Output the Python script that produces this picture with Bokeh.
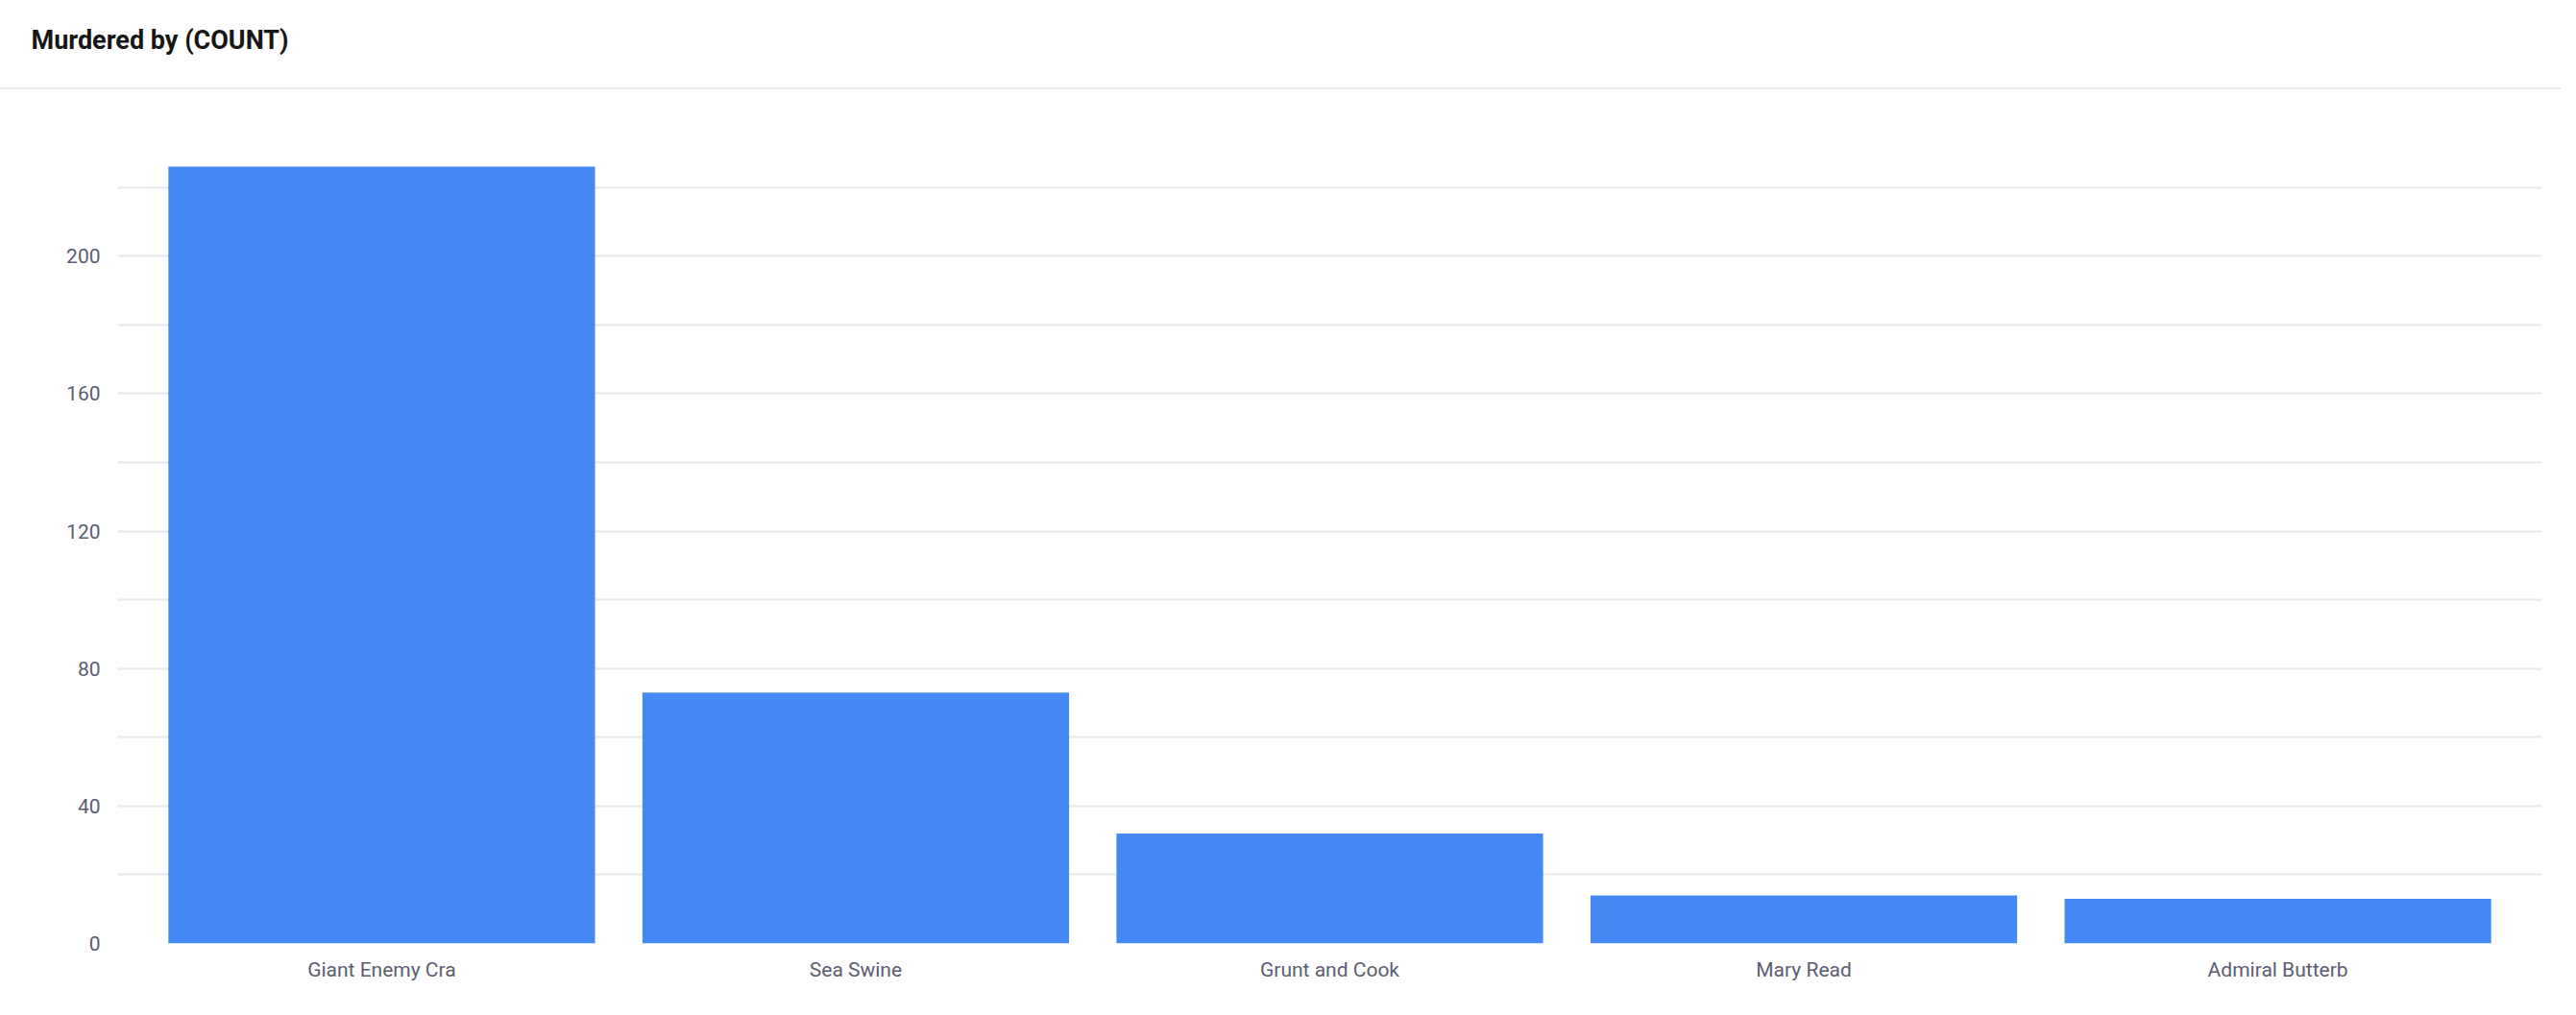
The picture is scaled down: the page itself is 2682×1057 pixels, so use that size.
from bokeh.plotting import figure
from bokeh.layouts import column
from bokeh.models import FactorRange, Range1d, FixedTicker, ColumnDataSource
from bokeh.embed import file_html
from bokeh.resources import INLINE

# ---- data ----
categories = ["Giant Enemy Cra", "Sea Swine", "Grunt and Cook", "Mary Read", "Admiral Butterb"]
counts = [226, 73, 32, 14, 13]
y_label_ticks = [0, 40, 80, 120, 160, 200]
y_grid_ticks = [0, 20, 40, 60, 80, 100, 120, 140, 160, 180, 200, 220]
title_text = "Murdered by (COUNT)"

# ---- styling ----
W, H = 2666, 1041
HEAD_H = 93
SEP = 2
BAR = "#4689f5"
GRID = "#e8e8ee"
LABEL = "#5b5d70"
FONT = "Roboto"
FRAME_LEFT = 122

# ---- header: title + full-width separator (CSS border) ----
head = figure(width=W, height=HEAD_H, x_range=Range1d(0, 1), y_range=Range1d(0, 1),
              output_backend="svg", toolbar_location=None,
              x_axis_location=None, y_axis_location=None,
              min_border_left=FRAME_LEFT, min_border_right=20,
              min_border_top=58, min_border_bottom=0,
              styles={"border-bottom": f"{SEP}px solid #ebebeb"})
head.grid.visible = False
head.outline_line_color = None
head.background_fill_color = "white"
head.border_fill_color = "white"
head.title.text = title_text
head.title.align = "left"
head.title.offset = 32 - FRAME_LEFT
head.title.vertical_align = "middle"
head.title.standoff = 0
head.title.text_font = FONT
head.title.text_font_size = "27px"
head.title.text_font_style = "bold"
head.title.text_color = "#161616"

# ---- chart ----
src = ColumnDataSource(dict(cat=categories, count=counts))

p = figure(
    x_range=FactorRange(factors=categories, range_padding=0.057, range_padding_units="absolute"),
    y_range=Range1d(0, 240),
    width=W, height=H - HEAD_H,
    output_backend="svg", toolbar_location=None,
    min_border_left=FRAME_LEFT, min_border_right=20,
    min_border_top=30, min_border_bottom=59,
)
p.background_fill_color = "white"
p.border_fill_color = "white"
p.outline_line_color = None

p.vbar(x="cat", top="count", width=0.9, source=src, fill_color=BAR, line_color=None)

p.xgrid.visible = False
p.ygrid.ticker = FixedTicker(ticks=y_grid_ticks)
p.ygrid.grid_line_color = GRID
p.ygrid.grid_line_width = 2

for ax in (p.xaxis[0], p.yaxis[0]):
    ax.axis_line_color = None
    ax.major_tick_line_color = None
    ax.minor_tick_line_color = None
    ax.major_tick_out = 0
    ax.major_tick_in = 0
    ax.major_label_text_font = FONT
    ax.major_label_text_font_size = "21px"
    ax.major_label_text_color = LABEL
p.yaxis.ticker = FixedTicker(ticks=y_label_ticks)
p.yaxis.major_label_standoff = 18
p.xaxis.major_label_standoff = 15

layout = column(head, p, spacing=0)
open("out.html", "w").write(file_html(layout, INLINE))
